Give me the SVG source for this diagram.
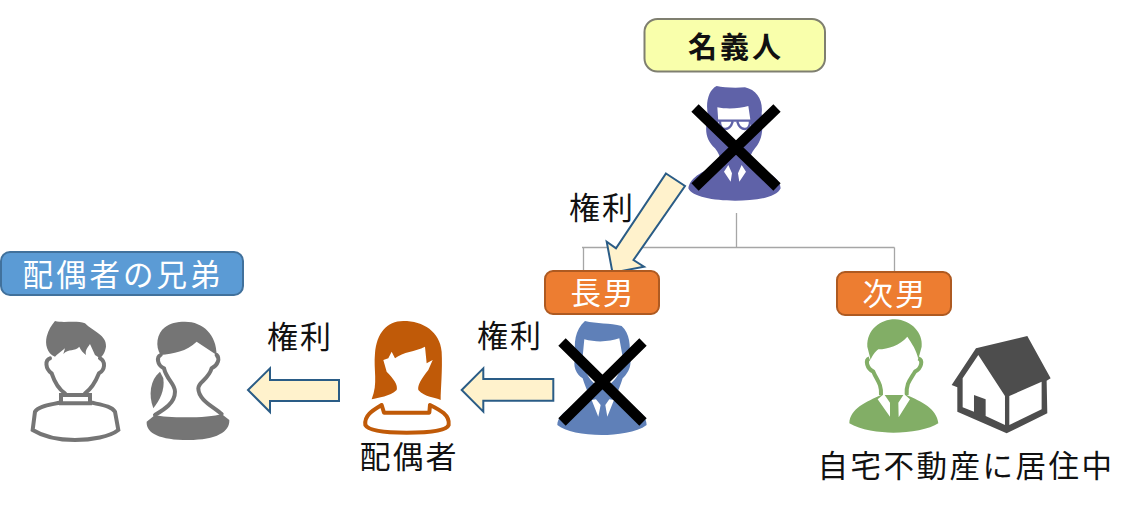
<svg xmlns="http://www.w3.org/2000/svg" width="1146" height="505" viewBox="0 0 1146 505">
<style>
text{font-family:"Noto Sans CJK JP","Noto Sans",sans-serif;font-size:31px;fill:#111;text-anchor:middle}
.lab{fill:#fff;font-size:30.5px}
.w{fill:#fff}
.box{stroke-width:2}
.or{fill:#ED7D31;stroke:#AE5A21}
.arrow{fill:#FFF2CC;stroke:#2A5C86;stroke-width:2}
.link{fill:none;stroke:#A6A6A6;stroke-width:1.3}
.x{stroke:#000;stroke-width:10.5}
.gl{fill:none;stroke:#757575;stroke-width:12;stroke-linecap:round}
.gf{fill:#757575}
.gn{fill:none;stroke:#82AE66;stroke-width:12}
.rl{fill:#fff;stroke:#C05A08;stroke-width:12;stroke-linejoin:round}
</style>

<g id="connectors">
  <path class="link" d="M736.5 213V247.5M582 247.5H894.5M583.5 247.5V271M894.5 247.5V272"/>
  <polygon class="arrow" points="666,173.5 685,186 633.5,260 644,266.7 612.5,272.7 606.7,241.7 616,248.3"/>
  <polygon class="arrow" points="461.7,390 483.3,368.3 483.3,379 553.3,379 553.3,400.7 483.3,400.7 483.3,411.7"/>
  <polygon class="arrow" points="248,390 270,368.3 270,380 339,380 339,401 270,401 270,412"/>
</g>

<g id="meigi-label">
  <rect x="644.5" y="19" width="180.5" height="52.5" rx="13" fill="#F9FFAB" stroke="#7F7F70" stroke-width="2"/>
  <text x="736" y="58" style="font-size:29px;font-weight:700;letter-spacing:3px">名義人</text>
</g>

<g id="meigi-person">
  <g transform="translate(620,0) scale(.3333)">
    <path fill="#5F62A8" d="M290,258C310,262 340,265 375,262C410,270 430,300 425,340C428,375 432,415 405,445C390,465 385,480 392,495C435,510 480,530 482,565C470,595 400,602 345,602C280,602 215,590 205,565C210,530 255,510 298,495C305,480 300,465 285,445C258,420 252,390 265,350C255,310 265,270 290,258Z"/>
    <path class="w" d="M292,322C320,328 360,326 385,318L392,365C395,395 375,425 345,430C315,425 295,395 295,365Z"/>
    <path fill="none" stroke="#5F62A8" stroke-width="7" d="M290,362H395M300,362C298,395 330,395 338,365M352,365C360,395 392,395 390,362"/>
    <path class="w" d="M325,495L312,515L332,545L336,520ZM365,495L378,515L358,545L354,520Z"/>
  </g>
  <path class="x" d="M695,108L777,187M777,108L695,187"/>
</g>

<g id="chonan-label">
  <rect class="box or" x="545" y="271" width="114" height="43" rx="8"/>
  <text class="lab" x="603" y="304" style="letter-spacing:2px">長男</text>
</g>

<g id="jinan-label">
  <rect class="box or" x="837" y="272" width="114" height="43" rx="8"/>
  <text class="lab" x="895" y="305" style="letter-spacing:2px">次男</text>
</g>

<g id="kyodai-label">
  <rect x="1" y="252" width="242" height="43" rx="9" fill="#5B9BD5" stroke="#41719C" stroke-width="2"/>
  <text class="lab" x="123" y="286" style="letter-spacing:3px">配偶者の兄弟</text>
</g>

<g id="rights-labels">
  <text x="602" y="219" style="letter-spacing:2px">権利</text>
  <text x="300" y="348" style="letter-spacing:2px">権利</text>
  <text x="510" y="347" style="letter-spacing:2px">権利</text>
</g>

<g id="chonan-person">
  <g transform="translate(340,310) scale(.3333)">
    <path fill="#5F80B8" d="M735,33C770,42 810,38 845,48C870,70 872,110 868,140C880,165 860,195 848,205C838,240 825,255 830,270C870,285 920,305 920,345C890,368 830,375 785,375C730,375 675,365 652,345C655,305 705,285 745,270C752,255 738,240 728,205C710,195 695,165 708,140C700,100 705,60 735,33Z"/>
    <path class="w" d="M733,88C770,98 810,95 838,85L848,140C850,175 825,225 788,232C750,225 728,175 728,140Z"/>
    <path class="w" d="M755,270L775,320L782,285L768,268ZM822,270L802,320L796,285L808,268Z"/>
  </g>
  <path class="x" d="M562,342L643,422M643,342L562,422"/>
</g>

<g id="jinan-person">
  <g transform="translate(810,310) scale(.3333)">
    <path fill="#82AE66" d="M172,110C170,60 210,28 255,28C305,30 340,70 335,110L325,148C320,120 305,100 292,80C270,105 235,118 205,118C195,125 185,140 182,150Z"/>
    <path class="gn" d="M178,145C165,150 170,175 190,185C200,210 215,220 213,255M325,145C340,150 335,175 315,185C300,210 288,220 290,255"/>
    <path fill="#82AE66" d="M213,255C170,275 120,295 118,340C150,360 210,368 250,368C300,368 360,358 385,340C380,295 335,275 290,255Z"/>
    <path class="w" d="M203,268L222,252L240,278L240,320ZM300,268L282,252L265,278L266,322Z"/>
  </g>
</g>

<g id="house">
  <g transform="translate(810,310) scale(.3333)">
    <path fill="#4D4D4D" d="M498,115L652,78L722,205L710,212L712,310L590,370L442,305L442,232L425,225Z"/>
    <path class="w" d="M505,135L585,258V345L527,318V268L492,255V305L458,292V205Z"/>
    <path class="w" d="M598,258L695,215V298L598,345Z"/>
  </g>
</g>

<g id="haiguusha-person">
  <g transform="translate(340,310) scale(.3333)">
    <path class="rl" d="M125,285C100,300 72,315 76,345C85,362 130,368 200,368C270,368 320,362 326,345C330,315 300,300 270,285L268,308H132Z"/>
    <path fill="#C05A08" d="M190,33C250,33 300,65 305,125C308,180 302,235 302,270C285,262 255,262 235,240C232,225 245,205 265,180L278,150L260,160L255,110C225,125 190,125 165,145L155,125L145,145L130,150L140,185C160,205 175,225 170,240C150,260 115,262 95,268C115,220 100,180 105,130C110,70 140,33 190,33Z"/>
  </g>
  <text x="409" y="468" style="letter-spacing:2px">配偶者</text>
</g>

<g id="brother-person">
  <g transform="translate(0,240) scale(.3333)">
    <path class="gf" d="M165,243C190,250 230,240 255,250C280,275 320,285 318,320C315,340 305,350 300,355L285,345L270,312C262,325 255,330 258,345C245,335 240,325 238,320C225,335 205,325 190,342L195,325L170,345L165,350C140,340 135,310 140,290C145,270 155,255 165,243Z"/>
    <path class="gl" d="M150,355C135,360 135,385 155,400C165,430 180,450 195,460M300,355C318,365 315,390 297,400C285,430 270,450 255,460"/>
    <path class="gl" d="M183,465H270V490H183ZM183,487C150,495 115,498 105,515L98,570C130,590 180,600 225,600C275,600 330,590 355,570L345,515C335,498 305,495 270,487"/>
  </g>
</g>

<g id="sister-person">
  <g transform="translate(0,240) scale(.3333)">
    <path class="gf" d="M555,245C610,245 650,285 650,345L590,305C560,335 520,340 482,345C465,320 470,280 495,262C510,250 530,245 555,245Z"/>
    <path class="gf" d="M480,395C450,420 445,465 460,505C480,480 495,450 490,415Z"/>
    <path class="gl" d="M482,345C470,350 470,375 492,385C500,420 525,430 525,455C525,490 490,510 465,525M650,345C660,355 655,375 635,385C625,420 595,425 595,445C595,480 640,500 665,522"/>
    <path class="gf" d="M440,545L465,525C500,535 630,535 665,522L688,540C690,575 650,600 565,600C480,600 438,580 440,545Z"/>
  </g>
</g>

<g id="jitaku-label">
  <text x="966" y="477" style="font-size:30.5px;letter-spacing:2.5px">自宅不動産に居住中</text>
</g>
</svg>
